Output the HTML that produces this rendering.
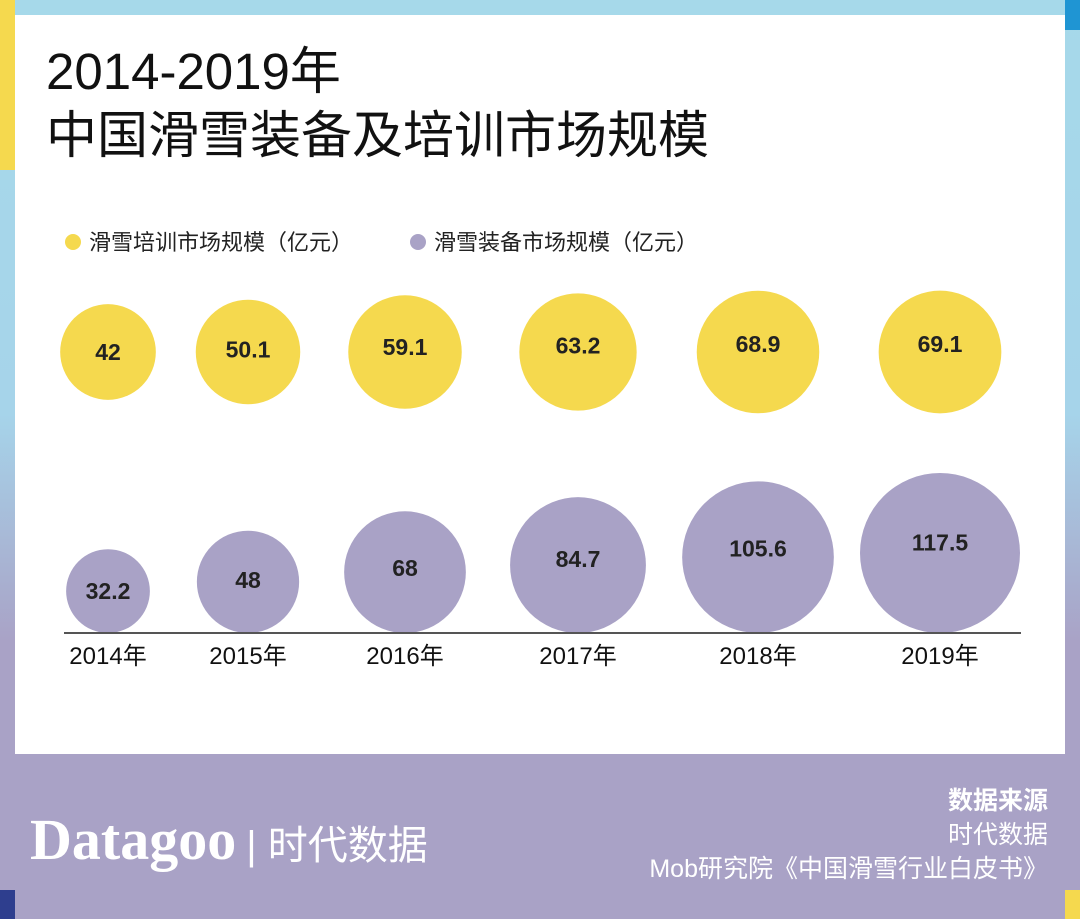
<!DOCTYPE html>
<html><head><meta charset="utf-8">
<style>
html,body{margin:0;padding:0;}
body{width:1080px;height:919px;position:relative;overflow:hidden;font-family:"Liberation Sans","Noto Sans CJK SC",sans-serif;background:linear-gradient(#a6d9ea 0%,#a6d4ea 45%,#a9a2c6 70%,#a9a2c6 100%);}
.abs{position:absolute;}
</style></head><body>
<div class="abs" style="left:0;top:0;width:15px;height:170px;background:#f5d94e"></div>
<div class="abs" style="left:1065px;top:0;width:15px;height:30px;background:#1f95d3"></div>
<div class="abs" style="left:0;top:890px;width:15px;height:29px;background:#2e3e8e"></div>
<div class="abs" style="left:1065px;top:890px;width:15px;height:29px;background:#f5d94e"></div>
<div class="abs" style="left:15px;top:15px;width:1050px;height:739px;background:#fff"></div>
<div class="abs" style="left:15px;top:754px;width:1050px;height:165px;background:#a9a2c6"></div>

<div class="abs" style="left:46px;top:40px;font-size:51px;line-height:64px;color:#111;">2014-2019年<br>中国滑雪装备及培训市场规模</div>

<svg class="abs" style="left:0;top:0" width="1080" height="919">
<g id="legend"></g>
<g id="marks"></g>
<line x1="64" y1="633" x2="1021" y2="633" stroke="#555" stroke-width="2"/>
</svg>

<div class="abs" style="right:32px;top:784px;text-align:right;color:#fff;font-size:25px;line-height:34px;"><b>数据来源</b><br>时代数据<br>Mob研究院《中国滑雪行业白皮书》</div>
<div class="abs" style="left:30px;top:806px;color:#fff;font-family:'Liberation Serif',serif;font-size:58px;font-weight:bold;">Datagoo<span style="font-family:'Liberation Sans','Noto Sans CJK SC',sans-serif;font-weight:normal;font-size:40px;margin-left:10px;">| 时代数据</span></div>

<script>
const years=['2014年','2015年','2016年','2017年','2018年','2019年'];
const training=[42,50.1,59.1,63.2,68.9,69.1];
const equipment=[32.2,48,68,84.7,105.6,117.5];
const seriesNames=['滑雪培训市场规模（亿元）','滑雪装备市场规模（亿元）'];
const NS='http://www.w3.org/2000/svg';
const xs=i=>[108,248,405,578,758,940][i];
const rs=v=>7.38*Math.sqrt(v);
const marks=document.getElementById('marks');
function mk(t,a){const e=document.createElementNS(NS,t);for(const k in a)e.setAttribute(k,a[k]);return e;}
years.forEach((y,i)=>{
  const r1=rs(training[i]);
  const c1=mk('circle',{cx:xs(i),cy:352,r:r1,fill:'#f5d94e'});
  
  
  marks.appendChild(c1);
  const t1=mk('text',{x:xs(i),y:352+8-(training[i]-42)*0.3,'text-anchor':'middle','font-size':23,'font-weight':'bold',fill:'#222'});
  t1.textContent=training[i];
  
  
  marks.appendChild(t1);
  const r2=rs(equipment[i]);
  const c2=mk('circle',{cx:xs(i),cy:633-r2,r:r2,fill:'#a9a2c6'});
  
  
  marks.appendChild(c2);
  const t2=mk('text',{x:xs(i),y:633-r2+8-(equipment[i]-32)*0.12,'text-anchor':'middle','font-size':23,'font-weight':'bold',fill:'#222'});
  t2.textContent=equipment[i];
  
  
  marks.appendChild(t2);
  const t3=mk('text',{x:xs(i),y:664,'text-anchor':'middle','font-size':24,fill:'#111'});
  t3.textContent=y;
  
  
  marks.appendChild(t3);
});
const lg=document.getElementById('legend');
[[73,'#f5d94e'],[418,'#a9a2c6']].forEach((p,i)=>{
  const c=mk('circle',{cx:p[0],cy:242,r:8,fill:p[1]});
  
  
  lg.appendChild(c);
  const t=mk('text',{x:p[0]+16,y:250,'font-size':22,fill:'#222'});
  t.textContent=seriesNames[i];
  
  
  lg.appendChild(t);
});
</script>
</body></html>
